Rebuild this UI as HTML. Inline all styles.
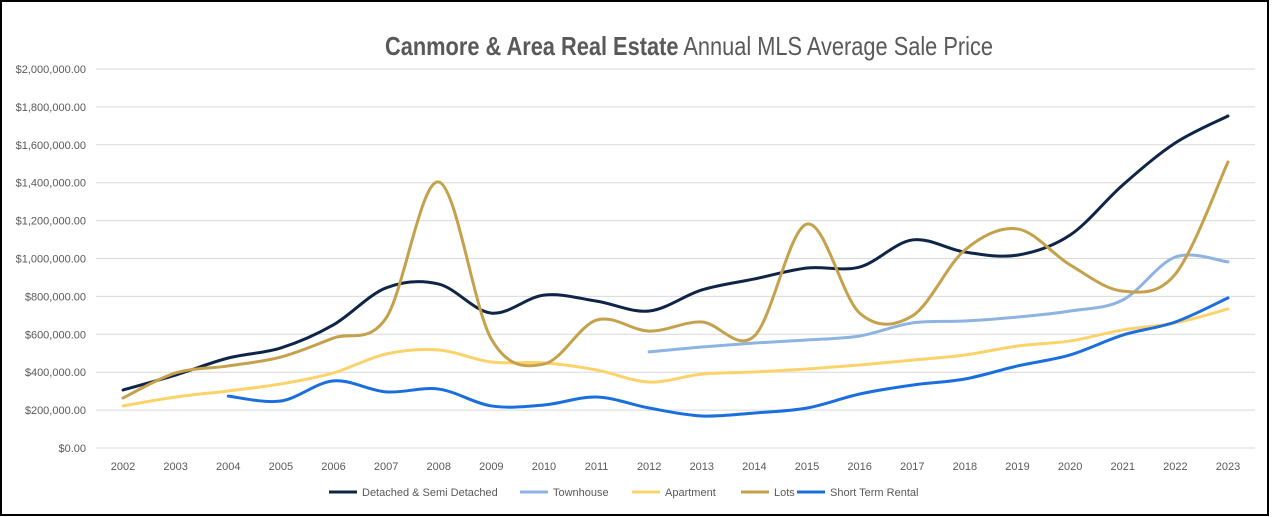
<!DOCTYPE html>
<html><head><meta charset="utf-8"><style>
html,body{margin:0;padding:0;background:#fff}
svg{display:block;font-family:"Liberation Sans",sans-serif}
</style></head><body>
<svg id="chart" width="1272" height="517">
<rect x="1" y="1" width="1267" height="514" fill="#fff" stroke="#000" stroke-width="2"/>
<text x="689" y="55" text-anchor="middle" font-size="26" fill="#595959" textLength="608" lengthAdjust="spacingAndGlyphs"><tspan font-weight="bold">Canmore &amp; Area Real Estate</tspan> Annual MLS Average Sale Price</text>
<g id="grid"></g><g id="series"></g><g id="legend"></g>
</svg>
<script>
const years=[2002,2003,2004,2005,2006,2007,2008,2009,2010,2011,2012,2013,2014,2015,2016,2017,2018,2019,2020,2021,2022,2023];
const yTicks=[0,200000,400000,600000,800000,1000000,1200000,1400000,1600000,1800000,2000000];
const detached=[306000,385000,475000,528000,650000,845000,865000,712000,807000,775000,723000,834000,892000,950000,955000,1098000,1034000,1018000,1124000,1388000,1610000,1752000];
const townhouse=[null,null,null,null,null,null,null,null,null,null,507000,533000,554000,570000,591000,660000,670000,691000,723000,781000,1008000,982000];
const apartment=[222000,269000,301000,338000,396000,496000,517000,454000,449000,412000,348000,390000,401000,417000,438000,464000,491000,538000,565000,623000,660000,734000];
const lots=[264000,396000,433000,480000,580000,686000,1404000,575000,443000,675000,617000,665000,591000,1182000,712000,697000,1045000,1156000,966000,828000,918000,1509000];
const shortTerm=[null,null,274000,248000,354000,296000,311000,222000,227000,269000,211000,169000,185000,211000,285000,332000,364000,433000,491000,596000,665000,792000];
const seriesNames=["Detached & Semi Detached","Townhouse","Apartment","Lots","Short Term Rental"];
const seriesData=[detached,townhouse,apartment,lots,shortTerm];
const colors=["#0f2547","#8db3e2","#fcd26a","#c4a14a","#1b6fdc"];
const ns="http://www.w3.org/2000/svg";
const X=i=>123+i*(1228-123)/(years.length-1);
const Y=v=>448-v/2000000*379;
const grid=document.getElementById('grid');
function mk(t,a,p){const e=document.createElementNS(ns,t);for(const k in a)e.setAttribute(k,a[k]);p.appendChild(e);return e;}
yTicks.forEach(v=>{
  const l=mk('line',{x1:96,x2:1255,y1:Y(v),y2:Y(v),stroke:'#d9d9d9','stroke-width':1},grid);
  
  
  const t=mk('text',{x:86,y:Y(v)+4,'text-anchor':'end','font-size':11,fill:'#595959'},grid);
  t.textContent='$'+v.toLocaleString('en-US',{minimumFractionDigits:2});
  
  
});
years.forEach((y,i)=>{
  const t=mk('text',{x:X(i),y:470,'text-anchor':'middle','font-size':11,fill:'#595959'},grid);
  t.textContent=y;
  
  
});
const sg=document.getElementById('series');
seriesData.forEach((arr,s)=>{
  const pts=[];arr.forEach((v,i)=>{if(v!==null)pts.push([X(i),Y(v)]);});
  let d='M'+pts[0][0]+','+pts[0][1];
  for(let i=0;i<pts.length-1;i++){
    const p0=pts[i-1]||pts[i],p1=pts[i],p2=pts[i+1],p3=pts[i+2]||p2,k=1/6;
    d+=' C'+(p1[0]+(p2[0]-p0[0])*k)+','+(p1[1]+(p2[1]-p0[1])*k)+' '+(p2[0]-(p3[0]-p1[0])*k)+','+(p2[1]-(p3[1]-p1[1])*k)+' '+p2[0]+','+p2[1];
  }
  const p=mk('path',{d:d,fill:'none',stroke:colors[s],'stroke-width':3,'stroke-linecap':'round'},sg);
  
  
});
const lg=document.getElementById('legend');
const lx=[329,520,632,741,797];
seriesNames.forEach((n,s)=>{
  const g=mk('g',{},lg);
  
  
  mk('line',{x1:lx[s],x2:lx[s]+28,y1:492,y2:492,stroke:colors[s],'stroke-width':3},g);
  const t=mk('text',{x:lx[s]+33,y:496,'font-size':11,fill:'#595959'},g);
  t.textContent=n;
});
</script>
</body></html>
